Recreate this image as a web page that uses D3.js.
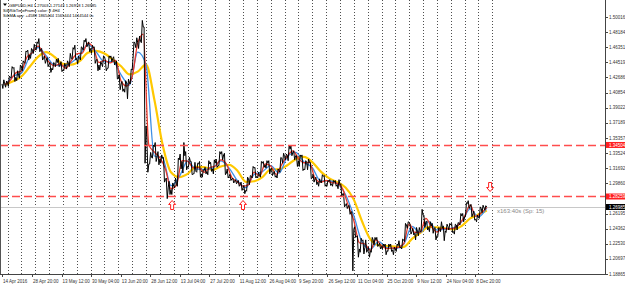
<!DOCTYPE html>
<html>
<head>
<meta charset="utf-8">
<script src="https://cdn.jsdelivr.net/npm/d3@7"></script>
<style>
html, body { margin: 0; padding: 0; background: #fff; }
svg { display: block; font-family: Tahoma, "Liberation Sans", Arial, sans-serif; }
</style>
</head>
<body>
<svg id="chart" width="625" height="286"></svg>
<script>
// ---- data (one value per trading day, from 14 Apr 2016) ----
const closes = [
  1.4190,1.4200,1.4270,1.4380,1.4270,1.4290,1.4400,1.4450,1.4580,1.4540,1.4600,1.4615,
  1.4680,1.4610,1.4500,1.4480,1.4430,1.4380,1.4440,1.4450,1.4420,1.4360,1.4400,1.4440,
  1.4500,1.4610,1.4500,1.4500,1.4630,1.4700,1.4670,1.4620,1.4630,1.4480,
  1.4420,1.4430,1.4520,1.4380,1.4510,1.4500,1.4450,1.4260,1.4190,1.4130,1.4200,1.4200,
  1.4360,1.4680,1.4690,1.4710,1.4880,1.3680,1.3220,1.3300,1.3430,1.3310,
  1.3280,1.3290,1.3030,1.2930,1.2910,1.2950,1.2980,1.3270,1.3250,1.3320,1.3190,1.3250,
  1.3100,1.3130,1.3220,1.3100,1.3140,1.3130,1.3220,1.3160,1.3230,
  1.3200,1.3340,1.3330,1.3110,1.3070,1.3040,1.3010,1.3000,1.2970,1.2930,1.2900,1.3040,
  1.3070,1.3170,1.3070,1.3080,1.3230,1.3210,1.3230,1.3160,1.3110,1.3080,1.3140,
  1.3290,1.3310,1.3320,1.3400,1.3360,1.3320,1.3260,1.3310,1.3160,1.3240,1.3240,1.3050,
  1.3040,1.3000,1.3000,1.3070,1.2970,1.3010,1.2980,1.3000,1.2970,1.2970,
  1.2860,1.2720,1.2710,1.2640,1.2430,1.2340,1.2190,1.2290,1.2210,1.2180,1.2170,1.2300,
  1.2300,1.2240,1.2220,1.2220,1.2170,1.2220,1.2180,1.2190,1.2230,
  1.2210,1.2300,1.2480,1.2510,1.2400,1.2380,1.2390,1.2400,1.2600,1.2520,1.2450,1.2470,
  1.2440,1.2350,1.2440,1.2440,1.2410,1.2460,1.2480,1.2400,1.2480,1.2500,
  1.2590,1.2580,1.2740,1.2710,1.2620,1.2550,1.2570,1.2680,1.2690,1.2698
];
const highs = [
  1.4240,1.4225,1.4285,1.4400,1.4390,1.4350,1.4420,1.4470,1.4590,1.4600,1.4620,1.4670,
  1.4700,1.4740,1.4620,1.4530,1.4510,1.4450,1.4450,1.4490,1.4500,1.4460,1.4440,1.4470,
  1.4560,1.4630,1.4660,1.4530,1.4640,1.4720,1.4740,1.4700,1.4660,1.4640,
  1.4490,1.4460,1.4530,1.4480,1.4530,1.4530,1.4520,1.4470,1.4300,1.4220,1.4230,1.4250,
  1.4370,1.4700,1.4750,1.4770,1.4960,1.4880,1.3530,1.3360,1.3450,1.3480,
  1.3370,1.3330,1.3300,1.3050,1.3010,1.2990,1.3050,1.3290,1.3340,1.3480,1.3370,1.3300,
  1.3250,1.3240,1.3230,1.3250,1.3150,1.3180,1.3260,1.3240,1.3270,
  1.3280,1.3370,1.3370,1.3350,1.3160,1.3090,1.3050,1.3030,1.3020,1.3000,1.2960,1.3060,
  1.3080,1.3190,1.3180,1.3120,1.3250,1.3250,1.3260,1.3260,1.3170,1.3130,1.3160,
  1.3300,1.3350,1.3340,1.3450,1.3440,1.3380,1.3320,1.3330,1.3330,1.3260,1.3280,1.3240,
  1.3090,1.3060,1.3040,1.3090,1.3080,1.3020,1.3030,1.3020,1.3020,1.3030,
  1.2980,1.2860,1.2740,1.2720,1.2640,1.2460,1.2350,1.2320,1.2300,1.2300,1.2210,1.2330,
  1.2330,1.2330,1.2260,1.2250,1.2250,1.2250,1.2250,1.2210,1.2250,
  1.2290,1.2310,1.2500,1.2520,1.2490,1.2440,1.2450,1.2450,1.2670,1.2600,1.2530,1.2520,
  1.2500,1.2450,1.2450,1.2520,1.2470,1.2490,1.2500,1.2500,1.2490,1.2510,
  1.2620,1.2620,1.2750,1.2775,1.2730,1.2650,1.2600,1.2700,1.2720,1.2714
];
const lows = [
  1.4135,1.4150,1.4160,1.4265,1.4220,1.4230,1.4260,1.4350,1.4440,1.4480,1.4500,1.4560,
  1.4600,1.4580,1.4480,1.4440,1.4400,1.4330,1.4360,1.4400,1.4400,1.4340,1.4350,1.4370,
  1.4400,1.4490,1.4480,1.4430,1.4480,1.4600,1.4640,1.4580,1.4560,1.4440,
  1.4350,1.4360,1.4400,1.4350,1.4380,1.4460,1.4420,1.4250,1.4120,1.4100,1.4090,1.4010,
  1.4190,1.4500,1.4630,1.4620,1.4690,1.3229,1.3120,1.3220,1.3290,1.3250,
  1.3210,1.3230,1.3000,1.2800,1.2850,1.2850,1.2930,1.2950,1.3160,1.3110,1.3150,1.3180,
  1.3090,1.3100,1.3120,1.3060,1.3060,1.3100,1.3090,1.3130,1.3100,
  1.3180,1.3200,1.3270,1.3090,1.3050,1.3020,1.2990,1.2980,1.2950,1.2900,1.2860,1.2890,
  1.2970,1.3050,1.3050,1.3050,1.3060,1.3180,1.3170,1.3100,1.3080,1.3060,1.3050,
  1.3120,1.3230,1.3270,1.3260,1.3320,1.3270,1.3190,1.3190,1.3140,1.3150,1.3150,1.3040,
  1.3000,1.2970,1.2950,1.2990,1.2950,1.2950,1.2960,1.2950,1.2950,1.2920,
  1.2830,1.2700,1.2680,1.2610,1.1925,1.2330,1.2090,1.2150,1.2130,1.2150,1.2090,1.2150,
  1.2240,1.2220,1.2190,1.2190,1.2120,1.2160,1.2160,1.2120,1.2160,
  1.2200,1.2190,1.2280,1.2440,1.2370,1.2360,1.2300,1.2350,1.2400,1.2450,1.2420,1.2400,
  1.2380,1.2300,1.2340,1.2400,1.2290,1.2390,1.2420,1.2390,1.2370,1.2420,
  1.2480,1.2520,1.2580,1.2680,1.2580,1.2540,1.2520,1.2560,1.2630,1.2660
];

// moving averages as drawn on the chart (value at the end of the sampled day)
const redMA = [ // every 2 trading days
  1.4180,1.4235,1.4325,1.4345,1.4515,1.4570,1.4648,1.4555,1.4455,1.4410,1.4435,1.4380,
  1.4470,1.4555,1.4565,1.4685,1.4625,1.4450,1.4475,1.4445,1.4475,1.4225,1.4165,1.4280,
  1.4685,1.4795,1.3450,1.3365,1.3295,1.3160,1.2920,1.2965,1.3260,1.3255,1.3175,1.3175,
  1.3120,1.3175,1.3195,1.3270,1.3220,1.3055,1.3005,1.2950,1.2970,1.3120,1.3075,1.3220,
  1.3195,1.3095,1.3215,1.3315,1.3380,1.3290,1.3235,1.3240,1.3045,1.3000,1.3020,1.2995,
  1.2985,1.2915,1.2715,1.2535,1.2265,1.2250,1.2175,1.2300,1.2230,1.2195,1.2200,1.2210,
  1.2255,1.2495,1.2390,1.2395,1.2560,1.2460,1.2395,1.2440,1.2435,1.2440,1.2490,1.2585,
  1.2725,1.2585,1.2625,1.2694
];
const blueMA = [ // every 3 trading days
  1.4170,1.4283,1.4320,1.4523,1.4632,1.4530,1.4417,1.4410,1.4447,1.4537,1.4667,1.4577,
  1.4457,1.4463,1.4300,1.4177,1.4577,1.4423,1.3317,1.3293,1.2957,1.3067,1.3253,1.3160,
  1.3153,1.3170,1.3257,1.3170,1.3017,1.2933,1.3093,1.3127,1.3200,1.3110,1.3307,1.3360,
  1.3243,1.3177,1.3013,1.3017,1.2983,1.2850,1.2593,1.2273,1.2187,1.2280,1.2203,1.2197,
  1.2247,1.2463,1.2390,1.2523,1.2420,1.2430,1.2447,1.2523,1.2677,1.2580,1.2689
];
const yellowMA = [ // every 3 trading days
  1.4179,1.4223,1.4280,1.4398,1.4519,1.4576,1.4517,1.4433,1.4424,1.4466,1.4569,1.4591,
  1.4559,1.4484,1.4405,1.4306,1.4339,1.4425,1.4000,1.3450,1.3120,1.3060,1.3100,1.3186,
  1.3181,1.3150,1.3190,1.3208,1.3138,1.3004,1.3011,1.3061,1.3153,1.3155,1.3205,1.3278,
  1.3305,1.3243,1.3130,1.3048,1.3000,1.2935,1.2788,1.2523,1.2306,1.2235,1.2225,1.2218,
  1.2215,1.2313,1.2384,1.2456,1.2453,1.2440,1.2428,1.2470,1.2560,1.2608,1.2657
];

const priceTicks = [1.50016,1.48184,1.46351,1.44519,1.42686,1.40854,1.39022,1.37189,1.35357,
  1.33524,1.31692,1.29860,1.28027,1.26195,1.24362,1.22530,1.20697,1.18865];
const dateTicks = ["2016-04-14 00:00","2016-04-28 20:00","2016-05-13 12:00","2016-05-30 04:00",
  "2016-06-13 20:00","2016-06-28 12:00","2016-07-13 04:00","2016-07-27 20:00","2016-08-11 12:00",
  "2016-08-26 04:00","2016-09-09 20:00","2016-09-26 12:00","2016-10-11 04:00","2016-10-25 20:00",
  "2016-11-09 12:00","2016-11-24 04:00","2016-12-08 20:00"];
const levelLines = [1.34504, 1.28259];
const bidPrice = 1.26985;
const arrowMarks = [
  {date: "2016-07-08 10:00", price: 1.2723, dir: "up"},
  {date: "2016-08-15 00:00", price: 1.2723, dir: "up"},
  {date: "2016-12-16 05:00", price: 1.2941, dir: "down"}
];
const headerLines = [
  "GBPUSD,H4  1.27003 1.27143 1.26918 1.26985",
  "SilkRibTimeFrame color: 8 4H4",
  "SilkMA apy: +4588 1865444 1565444 1444544 0c"
];
const timerText = "x163:40s (Sp: 15)";

// ---- layout ----
const plotRight = 605, plotBottom = 274;
const svg = d3.select('#chart');
const parseTime = d3.timeParse('%Y-%m-%d %H:%M');
const startDate = new Date(2016, 3, 14);

// position in trading days since the first bar (weekends skipped)
function tradingIndex(dt){
    const day = d3.timeDay.floor(dt);
    const n = d3.timeDay.range(startDate, day).filter(d => d.getDay() !== 0 && d.getDay() !== 6).length;
    return n + (dt - day) / 864e5;
}

const x = d3.scaleLinear().domain([0, 218.4]).range([2, 607]);
const y = d3.scaleLinear().domain([priceTicks[priceTicks.length - 1], priceTicks[0]]).range([plotBottom, 17]);

// tiny MT4 text: draw at double size and scale down (browser minimum font size)
const tiny = (px, py) => `translate(${px},${py}) scale(0.5)`;

svg.append('rect').attr('width', 625).attr('height', 286).attr('fill', '#fff');

svg.append('clipPath').attr('id', 'plot-clip')
    .append('rect').attr('x', 0).attr('y', 0).attr('width', plotRight).attr('height', plotBottom);

const plot = svg.append('g').attr('clip-path', 'url(#plot-clip)');

// weekly separators
const mondays = d3.timeMonday.range(new Date(2016, 3, 15), new Date(2016, 11, 20));
plot.selectAll('line.sep')
    .data(mondays)
    .join('line')
    .attr('class', 'sep')
    .attr('x1', d => Math.round(x(tradingIndex(d))) + 0.5)
    .attr('x2', d => Math.round(x(tradingIndex(d))) + 0.5)
    .attr('y1', 0).attr('y2', plotBottom)
    .attr('stroke', '#222')
    .attr('stroke-width', 0.8)
    .attr('stroke-dasharray', '1,2');

// bid line
plot.append('line')
    .attr('x1', 0).attr('x2', plotRight)
    .attr('y1', Math.round(y(bidPrice)) + 0.5)
    .attr('y2', Math.round(y(bidPrice)) + 0.5)
    .attr('stroke', '#c8c8c8');

// moving averages
function maLine(values, step, color, width){
    const line = d3.line()
        .x((d, i) => x(i * step + 1))
        .y(d => y(d))
        .curve(d3.curveMonotoneX);
    plot.append('path')
        .attr('d', line(values))
        .attr('fill', 'none')
        .attr('stroke', color)
        .attr('stroke-width', width)
        .attr('stroke-linejoin', 'round');
}
maLine(yellowMA, 3, '#ffc800', 2.2);
maLine(blueMA, 3, '#3d8fe6', 1.3);
maLine(redMA, 2, '#e8382c', 1.3);

// price: zig-zag through each day's open, extremes and close
const pricePts = [];
closes.forEach((c, i) => {
    const o = i > 0 ? closes[i - 1] : c;
    const up = c >= o;
    pricePts.push([i, o]);
    pricePts.push([i + 0.3, up ? lows[i] : highs[i]]);
    pricePts.push([i + 0.65, up ? highs[i] : lows[i]]);
    pricePts.push([i + 1, c]);
});
plot.append('path')
    .attr('d', d3.line().x(d => x(d[0])).y(d => y(d[1]))(pricePts))
    .attr('fill', 'none')
    .attr('stroke', '#000')
    .attr('stroke-width', 1);

// horizontal level lines (drawn over the price)
plot.selectAll('line.level')
    .data(levelLines)
    .join('line')
    .attr('class', 'level')
    .attr('x1', 0).attr('x2', plotRight)
    .attr('y1', d => Math.round(y(d)) + 0.5)
    .attr('y2', d => Math.round(y(d)) + 0.5)
    .style('stroke', '#ff4d4d')
    .style('stroke-width', 1.5)
    .style('stroke-dasharray', '8,4');

// arrow objects
function arrowPath(cx, cy, dir){
    const s = dir === 'up' ? 1 : -1;
    const pts = [[0, -4.5], [3.5, -0.5], [1.5, -0.5], [1.5, 4.5], [-1.5, 4.5], [-1.5, -0.5], [-3.5, -0.5]];
    return 'M' + pts.map(p => [cx + p[0], cy + s * p[1]].join(',')).join('L') + 'Z';
}
plot.selectAll('path.arrow')
    .data(arrowMarks)
    .join('path')
    .attr('class', 'arrow')
    .attr('d', d => arrowPath(x(tradingIndex(parseTime(d.date))), y(d.price), d.dir))
    .attr('fill', '#fff')
    .attr('stroke', '#ff2020')
    .attr('stroke-width', 1);

plot.append('text')
    .attr('transform', tiny(497, y(bidPrice) + 5.5))
    .attr('font-size', 12)
    .attr('fill', '#8a8a8a')
    .text(timerText);

// frame and axes
svg.append('line').attr('x1', 0.5).attr('x2', 0.5).attr('y1', 0).attr('y2', plotBottom).attr('stroke', '#555');
svg.append('line').attr('x1', plotRight + 0.5).attr('x2', plotRight + 0.5).attr('y1', 0).attr('y2', plotBottom + 0.5).attr('stroke', '#444');
svg.append('line').attr('x1', 0).attr('x2', plotRight + 1).attr('y1', plotBottom + 0.5).attr('y2', plotBottom + 0.5).attr('stroke', '#444');

// price tags on the scale
const tags = levelLines.map(p => ({p, bg: '#ff2020'})).concat([{p: bidPrice, bg: '#000'}]);
const freeTicks = priceTicks.filter(t => tags.every(g => Math.abs(y(t) - y(g.p)) > 4));

const yAxis = svg.append('g');
yAxis.selectAll('line')
    .data(priceTicks)
    .join('line')
    .attr('x1', plotRight).attr('x2', plotRight + 3)
    .attr('y1', d => Math.round(y(d)) + 0.5)
    .attr('y2', d => Math.round(y(d)) + 0.5)
    .attr('stroke', '#444');
yAxis.selectAll('text')
    .data(freeTicks)
    .join('text')
    .attr('transform', d => tiny(plotRight + 4, y(d) + 1.6))
    .attr('font-size', 9)
    .attr('fill', '#333')
    .text(d => d3.format('.5f')(d));

const tag = svg.selectAll('g.tag').data(tags).join('g').attr('class', 'tag');
tag.append('rect')
    .attr('x', plotRight + 1).attr('y', d => y(d.p) - 3)
    .attr('width', 19).attr('height', 6)
    .attr('fill', d => d.bg);
tag.append('text')
    .attr('transform', d => tiny(plotRight + 4, y(d.p) + 1.6))
    .attr('font-size', 9)
    .attr('fill', '#fff')
    .text(d => d3.format('.5f')(d.p));

// time axis
const fmtFirst = d3.timeFormat('%-d %b %Y');
const fmtOther = d3.timeFormat('%-d %b %H:%M');
const xAxis = svg.append('g');
xAxis.selectAll('line')
    .data(dateTicks)
    .join('line')
    .attr('x1', d => Math.round(x(tradingIndex(parseTime(d)))) + 0.5)
    .attr('x2', d => Math.round(x(tradingIndex(parseTime(d)))) + 0.5)
    .attr('y1', plotBottom).attr('y2', plotBottom + 3)
    .attr('stroke', '#444');
xAxis.selectAll('text')
    .data(dateTicks)
    .join('text')
    .attr('transform', d => tiny(x(tradingIndex(parseTime(d))) + 1, plotBottom + 8.8))
    .attr('font-size', 9)
    .attr('fill', '#333')
    .text((d, i) => i === 0 ? fmtFirst(parseTime(d)) : fmtOther(parseTime(d)));

// header
svg.append('path').attr('d', 'M3,3.5L7,3.5L5,6Z').attr('fill', '#000');
svg.selectAll('text.head')
    .data(headerLines)
    .join('text')
    .attr('class', 'head')
    .attr('transform', (d, i) => tiny(i === 0 ? 9 : 3, 6.5 + i * 5))
    .attr('font-size', 8.2)
    .attr('fill', '#000')
    .text(d => d);
</script>
</body>
</html>
